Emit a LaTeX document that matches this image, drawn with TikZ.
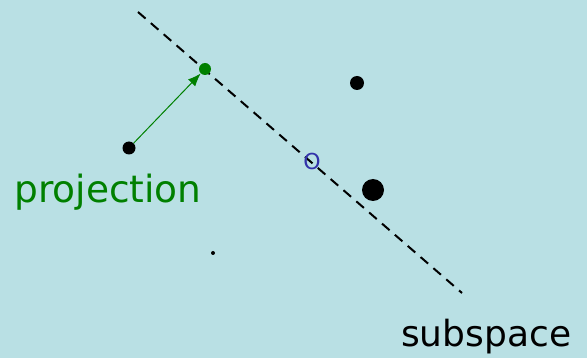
\documentclass[tikz,border=0pt]{standalone}
\usepackage{fontspec}
\usetikzlibrary{arrows.meta}
\setmainfont{DejaVu Sans}
\definecolor{bg}{RGB}{185,224,228}
\definecolor{pgreen}{RGB}{0,128,0}
\definecolor{oblue}{RGB}{50,50,170}
\begin{document}
\begin{tikzpicture}[x=1pt,y=-1pt,
  pt/.style={circle,fill=black,inner sep=0pt},
  lbl/.style={inner sep=0pt,anchor=base west,font=\fontsize{36}{36}\selectfont}]
\fill[bg] (0,0) rectangle (587,358);
\useasboundingbox (0,0) rectangle (587,358);
\coordinate (s1) at (138,12);
\coordinate (s2) at (462,293);
\draw[line width=2pt,dash pattern=on 10pt off 7pt] (s1) -- (s2);
\node[pt,minimum size=13pt] (a) at (129,148) {};
\node[pt,fill=pgreen,minimum size=12pt] (p) at (205,69) {};
\draw[pgreen,line width=1pt,-{Latex[length=13pt,width=10pt]}] (a) -- (p);
\node[pt,minimum size=14pt] (b) at (357,83) {};
\node[pt,minimum size=22pt] (c) at (373,190) {};
\node[pt,minimum size=4pt] (d) at (213,253) {};
\node[inner sep=0pt,text=oblue,font=\fontsize{22}{22}\selectfont] (o) at (312,161) {O};
\node[lbl,text=pgreen,font=\fontsize{37.5}{37.5}\selectfont] (proj) at (14,203) {projection};
\node[lbl] (sub) at (401,347) {subspace};
\end{tikzpicture}
\end{document}
